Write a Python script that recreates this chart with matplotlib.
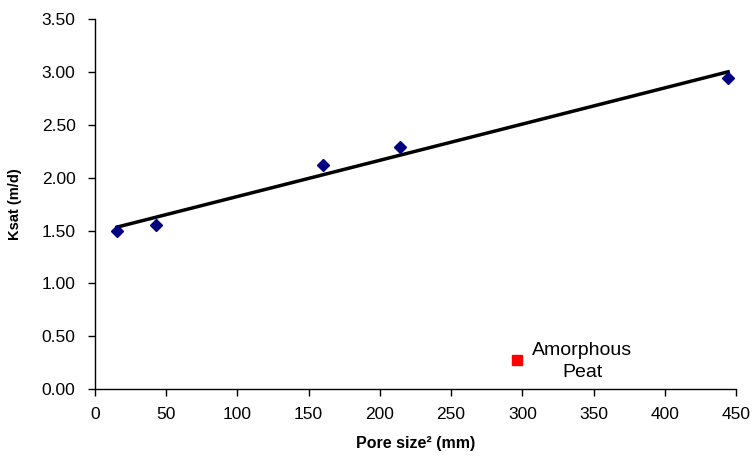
import numpy as np
import matplotlib.pyplot as plt

plt.rcParams['font.family'] = ['Liberation Sans', 'DejaVu Sans']

# fibrous peat samples
pore_size = [15.4, 42.8, 160.0, 214.0, 444.5]
ksat = [1.50, 1.55, 2.12, 2.29, 2.94]

# amorphous peat sample
amorph_x = [296.0]
amorph_y = [0.27]

xticks = [0, 50, 100, 150, 200, 250, 300, 350, 400, 450]
yticks = [0.0, 0.5, 1.0, 1.5, 2.0, 2.5, 3.0, 3.5]

# linear trend through fibrous samples
slope, intercept = np.polyfit(pore_size, ksat, 1)
fit_x = np.array([min(pore_size), max(pore_size)])
fit_y = slope * fit_x + intercept

fig = plt.figure(figsize=(7.55, 4.57), dpi=100)
ax = fig.add_axes([0.1258, 0.1488, 0.849, 0.8092])

ax.plot(fit_x, fit_y, color='black', lw=2.5, zorder=2)
ax.plot(pore_size, ksat, 'D', color='#000080', ms=6.5, zorder=3)
ax.plot(amorph_x, amorph_y, 's', color='#ff0000', ms=6.5, zorder=3)
ax.text(amorph_x[0] + 46, amorph_y[0] - 0.01, 'Amorphous\nPeat', ha='center', va='center',
        fontsize=14, linespacing=1.35)

ax.set_xlim(0, 450)
ax.set_ylim(0, 3.5)
ax.set_xticks(xticks)
ax.set_yticks(yticks)
ax.set_yticklabels(['%.2f' % v for v in yticks])
ax.tick_params(direction='out', length=5, width=1, labelsize=12.5)
ax.tick_params(axis='x', pad=8)
ax.tick_params(axis='y', pad=9)

ax.spines['top'].set_visible(False)
ax.spines['right'].set_visible(False)
ax.spines['left'].set_linewidth(1)
ax.spines['bottom'].set_linewidth(1)

ax.set_xlabel('Pore size\u00b2 (mm)', fontsize=11.5, fontweight='bold', labelpad=10)
ax.set_ylabel('Ksat (m/d)', fontsize=10.5, fontweight='bold', labelpad=14)

fig.savefig('out.png', dpi=100)
